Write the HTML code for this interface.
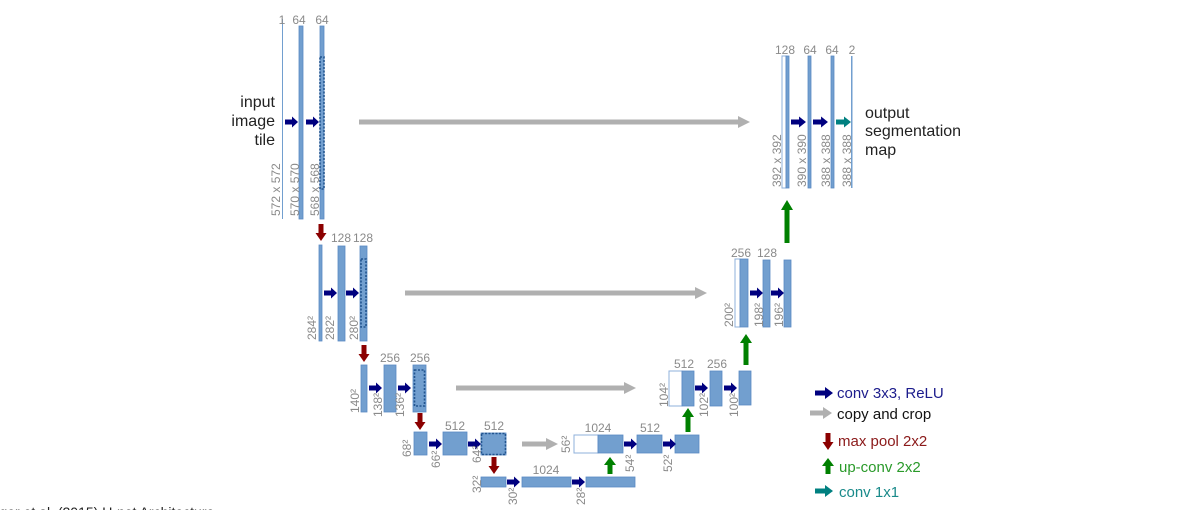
<!DOCTYPE html>
<html><head><meta charset="utf-8"><style>
html,body{margin:0;padding:0;background:#fff;width:1192px;height:510px;overflow:hidden}
svg{display:block;font-family:"Liberation Sans",sans-serif}
.l{fill:#8a8a8a;font-size:12px}
.b{fill:#729fcf;stroke:#5a8ac4;stroke-width:0.8}
.w{fill:#fff;stroke:#8fb0db;stroke-width:1}
.d{fill:none;stroke:#22558f;stroke-width:1.6;stroke-dasharray:2,1.5}
</style></head><body>
<svg width="1192" height="510" viewBox="0 0 1192 510">
<defs>
<path id="ba" d="M0,-2.5H7V-5.5L13,0L7,5.5V2.5H0Z" fill="#00007f"/>
<path id="ta" d="M0,-2.5H8V-5.5L15,0L8,5.5V2.5H0Z" fill="#008080"/>
<path id="rd" d="M-2.5,0H2.5V9H5.5L0,17L-5.5,9H-2.5Z" fill="#8b0000"/>
</defs>

<!-- Level 1 -->
<rect x="282" y="19" width="1" height="200" fill="#729fcf"/>
<rect class="b" x="299" y="26" width="4" height="193"/>
<rect class="b" x="320" y="26" width="4" height="193"/>
<rect class="d" x="320" y="57" width="4" height="132"/>
<text class="l" x="282" y="24" text-anchor="middle">1</text>
<text class="l" x="299" y="24" text-anchor="middle">64</text>
<text class="l" x="322" y="24" text-anchor="middle">64</text>
<text x="275" y="107" text-anchor="end" font-size="16" fill="#222">input</text>
<text x="275" y="126" text-anchor="end" font-size="16" fill="#222">image</text>
<text x="275" y="145" text-anchor="end" font-size="16" fill="#222">tile</text>
<use href="#ba" transform="translate(285,122)"/>
<use href="#ba" transform="translate(306,122)"/>
<text class="l" transform="translate(280,216) rotate(-90)">572 x 572</text>
<text class="l" transform="translate(299,216) rotate(-90)">570 x 570</text>
<text class="l" transform="translate(319,216) rotate(-90)">568 x 568</text>
<path d="M359,119.5H738V116L750,122L738,128V124.5H359Z" fill="#b0b0b0"/>
<use href="#rd" transform="translate(321,224)"/>

<!-- Level 2 -->
<rect class="b" x="319" y="245" width="3" height="96"/>
<rect class="b" x="338" y="246" width="7" height="95"/>
<rect class="b" x="360" y="246" width="7" height="95"/>
<rect class="d" x="361" y="259" width="5" height="68"/>
<text class="l" x="341" y="242" text-anchor="middle">128</text>
<text class="l" x="363" y="242" text-anchor="middle">128</text>
<use href="#ba" transform="translate(324,293)"/>
<use href="#ba" transform="translate(346,293)"/>
<text class="l" transform="translate(316,340) rotate(-90)">284²</text>
<text class="l" transform="translate(334,340) rotate(-90)">282²</text>
<text class="l" transform="translate(358,340) rotate(-90)">280²</text>
<path d="M405,290.5H695V287L707,293L695,299V295.5H405Z" fill="#b0b0b0"/>
<use href="#rd" transform="translate(364,345)"/>

<!-- Level 3 -->
<rect class="b" x="361" y="365" width="6" height="47"/>
<rect class="b" x="384" y="365" width="12" height="47"/>
<rect class="b" x="413" y="365" width="13" height="47"/>
<rect class="d" x="414.5" y="370" width="10" height="36"/>
<text class="l" x="390" y="362" text-anchor="middle">256</text>
<text class="l" x="420" y="362" text-anchor="middle">256</text>
<use href="#ba" transform="translate(369,388)"/>
<use href="#ba" transform="translate(398,388)"/>
<text class="l" transform="translate(359,413) rotate(-90)">140²</text>
<text class="l" transform="translate(382,417) rotate(-90)">138²</text>
<text class="l" transform="translate(404,417) rotate(-90)">136²</text>
<path d="M456,385.5H624V382L636,388L624,394V390.5H456Z" fill="#b0b0b0"/>
<use href="#rd" transform="translate(420,413)"/>

<!-- Level 4 -->
<rect class="b" x="414" y="432" width="13" height="23"/>
<rect class="b" x="443" y="432" width="24" height="23"/>
<rect class="b" x="481" y="433" width="25" height="22"/>
<rect class="d" x="481.5" y="433.5" width="24" height="21"/>
<text class="l" x="455" y="430" text-anchor="middle">512</text>
<text class="l" x="494" y="430" text-anchor="middle">512</text>
<use href="#ba" transform="translate(429,444)"/>
<use href="#ba" transform="translate(468,444)"/>
<text class="l" transform="translate(411,457) rotate(-90)">68²</text>
<text class="l" transform="translate(440,468) rotate(-90)">66²</text>
<text class="l" transform="translate(481,463) rotate(-90)">64²</text>
<path d="M522,441.5H546V438L558,444L546,450V446.5H522Z" fill="#b0b0b0"/>
<use href="#rd" transform="translate(494,457)"/>

<!-- Level 5 -->
<rect class="b" x="481" y="477" width="25" height="10"/>
<rect class="b" x="522" y="477" width="49" height="10"/>
<rect class="b" x="586" y="477" width="49" height="10"/>
<text class="l" x="546" y="474" text-anchor="middle">1024</text>
<use href="#ba" transform="translate(507,482)"/>
<use href="#ba" transform="translate(572,482)"/>
<text class="l" transform="translate(481,493) rotate(-90)">32²</text>
<text class="l" transform="translate(517,505) rotate(-90)">30²</text>
<text class="l" transform="translate(585,505) rotate(-90)">28²</text>

<!-- Up 4 -->
<path d="M607.5,474V465H604L610,457L616,465H612.5V474Z" fill="#008000"/>
<rect class="w" x="574" y="435" width="24" height="18"/>
<rect class="b" x="598" y="435" width="25" height="18"/>
<rect class="b" x="637" y="435" width="25" height="18"/>
<rect class="b" x="675" y="435" width="24" height="18"/>
<text class="l" x="598" y="432" text-anchor="middle">1024</text>
<text class="l" x="650" y="432" text-anchor="middle">512</text>
<use href="#ba" transform="translate(624,444)"/>
<use href="#ba" transform="translate(663,444)"/>
<text class="l" transform="translate(570,453) rotate(-90)">56²</text>
<text class="l" transform="translate(634,472) rotate(-90)">54²</text>
<text class="l" transform="translate(672,472) rotate(-90)">52²</text>

<!-- Up 3 -->
<path d="M685.5,432V417H682L688,408L694,417H690.5V432Z" fill="#008000"/>
<rect class="w" x="669" y="371" width="13" height="35"/>
<rect class="b" x="682" y="371" width="12" height="35"/>
<rect class="b" x="710" y="371" width="12" height="35"/>
<rect class="b" x="739" y="371" width="12" height="34"/>
<text class="l" x="684" y="368" text-anchor="middle">512</text>
<text class="l" x="717" y="368" text-anchor="middle">256</text>
<use href="#ba" transform="translate(695,388)"/>
<use href="#ba" transform="translate(724,388)"/>
<text class="l" transform="translate(668,407) rotate(-90)">104²</text>
<text class="l" transform="translate(708,417) rotate(-90)">102²</text>
<text class="l" transform="translate(738,417) rotate(-90)">100²</text>

<!-- Up 2 -->
<path d="M743.5,365V343H740L746,334L752,343H748.5V365Z" fill="#008000"/>
<rect class="w" x="735" y="259" width="5" height="68"/>
<rect class="b" x="740" y="259" width="8" height="68"/>
<rect class="b" x="763" y="260" width="7" height="67"/>
<rect class="b" x="784" y="260" width="7" height="67"/>
<text class="l" x="741" y="257" text-anchor="middle">256</text>
<text class="l" x="767" y="257" text-anchor="middle">128</text>
<use href="#ba" transform="translate(750,293)"/>
<use href="#ba" transform="translate(771,293)"/>
<text class="l" transform="translate(733,327) rotate(-90)">200²</text>
<text class="l" transform="translate(763,327) rotate(-90)">198²</text>
<text class="l" transform="translate(783,327) rotate(-90)">196²</text>

<!-- Up 1 -->
<path d="M784.5,243V210H781L787,200L793,210H789.5V243Z" fill="#008000"/>
<rect class="w" x="782" y="56" width="4" height="132"/>
<rect class="b" x="786" y="56" width="3" height="132"/>
<rect class="b" x="808" y="56" width="3" height="132"/>
<rect class="b" x="831" y="56" width="3" height="132"/>
<rect x="851" y="56" width="1.5" height="132" fill="#729fcf"/>
<text class="l" x="785" y="54" text-anchor="middle">128</text>
<text class="l" x="810" y="54" text-anchor="middle">64</text>
<text class="l" x="832" y="54" text-anchor="middle">64</text>
<text class="l" x="852" y="54" text-anchor="middle">2</text>
<use href="#ba" transform="translate(791,122) scale(1.15,1)"/>
<use href="#ba" transform="translate(813,122) scale(1.15,1)"/>
<use href="#ta" transform="translate(836,122)"/>
<text class="l" transform="translate(781,187) rotate(-90)">392 x 392</text>
<text class="l" transform="translate(806,187) rotate(-90)">390 x 390</text>
<text class="l" transform="translate(830,187) rotate(-90)">388 x 388</text>
<text class="l" transform="translate(851,187) rotate(-90)">388 x 388</text>
<text x="865" y="118" font-size="16" fill="#222">output</text>
<text x="865" y="136" font-size="16" fill="#222">segmentation</text>
<text x="865" y="155" font-size="16" fill="#222">map</text>

<!-- Legend -->
<path d="M815,390.5H825V387L833,393L825,399V395.5H815Z" fill="#00007f"/>
<text x="837" y="398" font-size="15" fill="#1c1c8c">conv 3x3, ReLU</text>
<path d="M810,410.5H823V407L832,413L823,419V415.5H810Z" fill="#b0b0b0"/>
<text x="837" y="419" font-size="15" fill="#111">copy and crop</text>
<use href="#rd" transform="translate(828,433)"/>
<text x="838" y="446" font-size="15" fill="#8b1a1a">max pool 2x2</text>
<path d="M825.5,474V466H822L828,458L834,466H830.5V474Z" fill="#008000"/>
<text x="839" y="472" font-size="15" fill="#2a9a2a">up-conv 2x2</text>
<path d="M815,488.5H825V485L833,491L825,497V493.5H815Z" fill="#008080"/>
<text x="839" y="497" font-size="15" fill="#1a8a8a">conv 1x1</text>

<text x="-62" y="517" font-size="14" fill="#222">Ronneberger et al. (2015) U-net Architecture</text>
</svg>
</body></html>
